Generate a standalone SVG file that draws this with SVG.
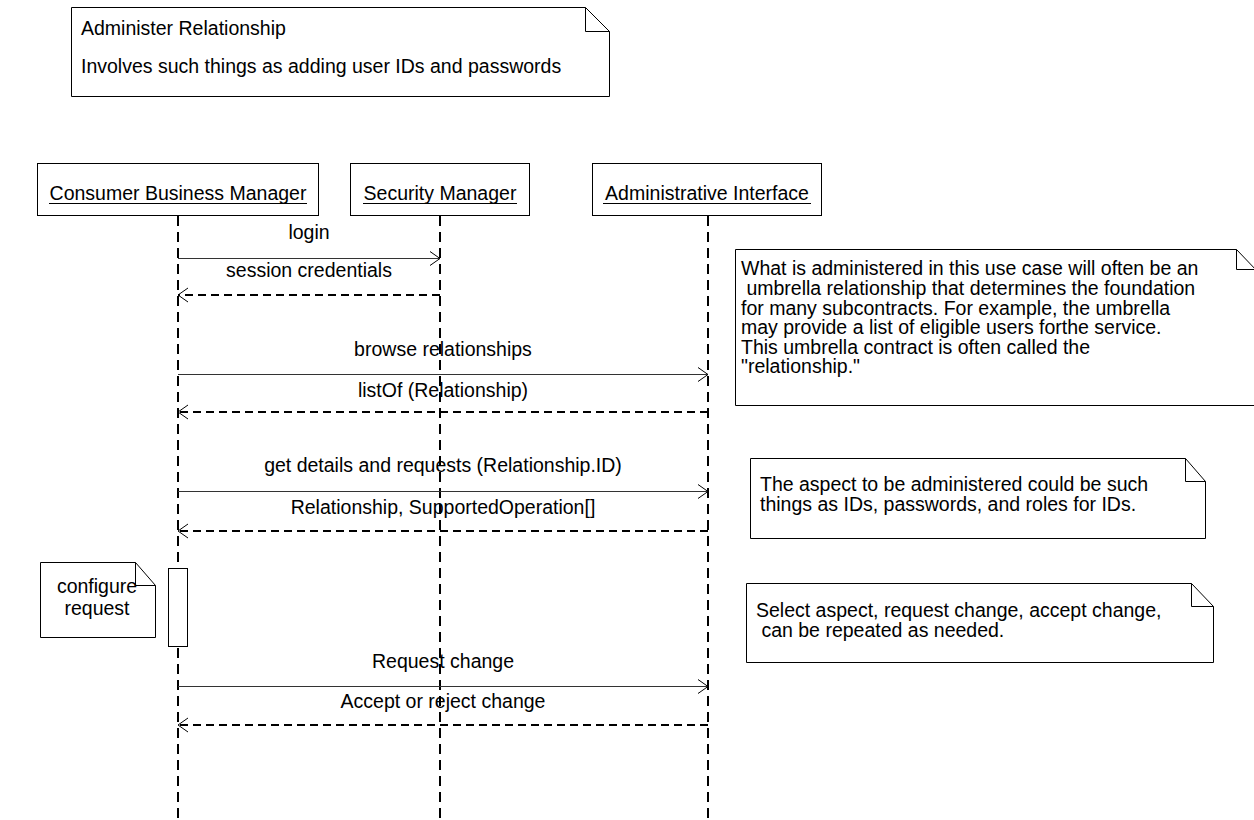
<svg xmlns="http://www.w3.org/2000/svg" width="1254" height="820" viewBox="0 0 1254 820">
  <style>
    text { font-family: "Liberation Sans", Arial, sans-serif; font-size: 19.5px; fill: #000; white-space: pre; }
    .mid { text-anchor: middle; }
    .box { fill: #fff; stroke: #000; stroke-width: 1; }
    .note { fill: #fff; stroke: #000; stroke-width: 1; }
    .fold { fill: none; stroke: #000; stroke-width: 1; }
    .life { stroke: #000; stroke-width: 2; stroke-dasharray: 10 6; fill: none; }
    .call { stroke: #333; stroke-width: 1; fill: none; marker-end: url(#open); }
    .ret { stroke: #000; stroke-width: 2; stroke-dasharray: 8 5; fill: none; marker-end: url(#open); }
    .uline { stroke: #000; stroke-width: 1; }
  </style>
  <defs>
    <marker id="open" markerWidth="14" markerHeight="18" refX="11" refY="8" orient="auto" markerUnits="userSpaceOnUse">
      <path d="M1,1 L11,8 L1,15" fill="none" stroke="#000" stroke-width="1"/>
    </marker>
  </defs>

  <rect width="1254" height="820" fill="#fff"/>

  <!-- title note -->
  <g id="note-title">
    <path class="note" d="M71.5,7.5 H585.5 L609.5,31.5 V96.5 H71.5 Z"/>
    <path class="fold" d="M585.5,7.5 V31.5 H609.5"/>
    <text x="81" y="35">Administer Relationship</text>
    <text x="81" y="73">Involves such things as adding user IDs and passwords</text>
  </g>

  <!-- lifelines -->
  <g id="lifelines">
    <line class="life" x1="178" y1="216" x2="178" y2="818"/>
    <line class="life" x1="440" y1="216" x2="440" y2="818"/>
    <line class="life" x1="708" y1="216" x2="708" y2="818"/>
  </g>

  <!-- participants -->
  <g id="consumer-business-manager">
    <rect class="box" x="37.5" y="163.5" width="281" height="52"/>
    <text class="mid" x="178" y="200">Consumer Business Manager</text>
    <line class="uline" x1="49" y1="203.5" x2="307" y2="203.5"/>
  </g>
  <g id="security-manager">
    <rect class="box" x="350.5" y="163.5" width="179" height="52"/>
    <text class="mid" x="440" y="200">Security Manager</text>
    <line class="uline" x1="363" y1="203.5" x2="517" y2="203.5"/>
  </g>
  <g id="administrative-interface">
    <rect class="box" x="592.5" y="163.5" width="229" height="52"/>
    <text class="mid" x="707" y="200">Administrative Interface</text>
    <line class="uline" x1="603" y1="203.5" x2="811" y2="203.5"/>
  </g>

  <!-- activation on the consumer lifeline -->
  <g id="activation">
    <rect class="box" x="168.5" y="568.5" width="19" height="78"/>
  </g>

  <!-- messages -->
  <g id="connectors">
    <line class="call" x1="178" y1="258.5" x2="440" y2="258.5"/>
    <line class="ret" x1="440" y1="295" x2="178" y2="295"/>
    <line class="call" x1="178" y1="374.5" x2="708" y2="374.5"/>
    <line class="ret" x1="708" y1="412" x2="178" y2="412"/>
    <line class="call" x1="178" y1="491.5" x2="708" y2="491.5"/>
    <line class="ret" x1="708" y1="531" x2="178" y2="531"/>
    <line class="call" x1="178" y1="686.5" x2="708" y2="686.5"/>
    <line class="ret" x1="708" y1="725" x2="178" y2="725"/>
  </g>

  <g id="message-labels">
    <text class="mid" x="309" y="239">login</text>
    <text class="mid" x="309" y="277">session credentials</text>
    <text class="mid" x="443" y="356">browse relationships</text>
    <text class="mid" x="443" y="397">listOf (Relationship)</text>
    <text class="mid" x="443" y="472">get details and requests (Relationship.ID)</text>
    <text class="mid" x="443" y="514">Relationship, SupportedOperation[]</text>
    <text class="mid" x="443" y="668">Request change</text>
    <text class="mid" x="443" y="708">Accept or reject change</text>
  </g>

  <!-- side notes -->
  <g id="note-umbrella">
    <path class="note" d="M735.5,249.5 H1236.5 L1258,272 V405.5 H735.5 Z"/>
    <path class="fold" d="M1236.5,249.5 V269.5 H1258"/>
    <text x="741" y="275">What is administered in this use case will often be an</text>
    <text x="741" y="295"> umbrella relationship that determines the foundation</text>
    <text x="741" y="315">for many subcontracts. For example, the umbrella</text>
    <text x="741" y="334">may provide a list of eligible users forthe service.</text>
    <text x="741" y="354">This umbrella contract is often called the</text>
    <text x="741" y="373">"relationship."</text>
  </g>

  <g id="note-aspect">
    <path class="note" d="M750.5,458.5 H1185.5 L1205.5,481.5 V538.5 H750.5 Z"/>
    <path class="fold" d="M1185.5,458.5 V481.5 H1205.5"/>
    <text x="760" y="491">The aspect to be administered could be such</text>
    <text x="760" y="511">things as IDs, passwords, and roles for IDs.</text>
  </g>

  <g id="note-repeat">
    <path class="note" d="M746.5,583.5 H1191.5 L1213.5,606.5 V662.5 H746.5 Z"/>
    <path class="fold" d="M1191.5,583.5 V606.5 H1213.5"/>
    <text x="756" y="617">Select aspect, request change, accept change,</text>
    <text x="756" y="637"> can be repeated as needed.</text>
  </g>

  <g id="note-configure">
    <path class="note" d="M40.5,562.5 H135.5 L155.5,585.5 V637.5 H40.5 Z"/>
    <path class="fold" d="M135.5,562.5 V585.5 H155.5"/>
    <text class="mid" x="97" y="593">configure</text>
    <text class="mid" x="97" y="615">request</text>
  </g>
</svg>
